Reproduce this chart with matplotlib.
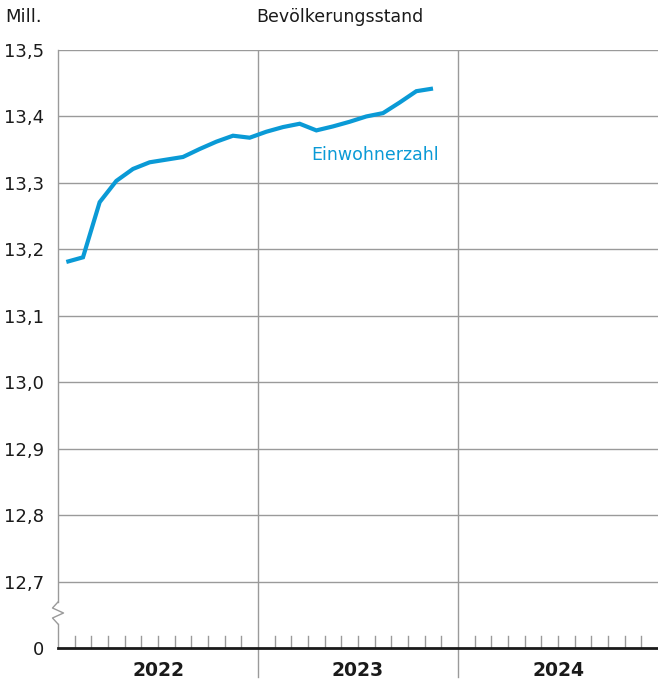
import matplotlib
matplotlib.use("Agg")
import matplotlib.pyplot as plt
from matplotlib.lines import Line2D

months = ["2022-01","2022-02","2022-03","2022-04","2022-05","2022-06","2022-07","2022-08",
          "2022-09","2022-10","2022-11","2022-12","2023-01","2023-02","2023-03","2023-04",
          "2023-05","2023-06","2023-07","2023-08","2023-09","2023-10","2023-11"]
einwohner = [13.181, 13.188, 13.271, 13.303, 13.321, 13.331, 13.335, 13.339,
             13.351, 13.362, 13.371, 13.368, 13.377, 13.384, 13.389, 13.379,
             13.385, 13.392, 13.400, 13.405, 13.421, 13.438, 13.442]
years = ["2022", "2023", "2024"]
ytick_vals = [12.6, 12.7, 12.8, 12.9, 13.0, 13.1, 13.2, 13.3, 13.4, 13.5]
ytick_labels = ["0", "12,7", "12,8", "12,9", "13,0", "13,1", "13,2", "13,3", "13,4", "13,5"]

blue = "#0a9ad6"
grid = "#9a9a9a"
W, H = 658, 684
fig = plt.figure(figsize=(W/100, H/100), dpi=100)
ax = fig.add_axes([58/W, (H-648)/H, 600/W, 598/H])

xs = [(int(m[:4]) - 2022) * 12 + int(m[5:]) - 0.5 for m in months]
ax.set_xlim(0, 36)
ax.set_ylim(12.6, 13.5)

for v in ytick_vals[1:]:
    ax.axhline(v, color=grid, lw=1.0, zorder=1)
for x in (12, 24):
    ax.axvline(x, color=grid, lw=1.0, zorder=1)
    ax.add_line(Line2D([x, x], [12.6, 12.6 - 0.9 * 29/598], color=grid, lw=1.0, clip_on=False))

ax.plot(xs, einwohner, color=blue, lw=3.0, solid_capstyle="butt", solid_joinstyle="miter", zorder=3)

for s in ax.spines.values():
    s.set_visible(False)
ax.axhline(12.6, color="#1a1a1a", lw=2.0, zorder=4, clip_on=False)

# left axis line with break
def py(p):
    return 12.6 + 0.9 * (648 - p) / 598
ax.add_line(Line2D([0, 0], [13.5, py(602)], color=grid, lw=1.0, clip_on=False))
ax.add_line(Line2D([0, 0], [py(624), 12.6], color=grid, lw=1.0, clip_on=False))
zx = [0, -0.33, 0.33, -0.33, 0.0]
zy = [py(602), py(608), py(613), py(618), py(624)]
ax.add_line(Line2D(zx, zy, color=grid, lw=1.0, clip_on=False, zorder=5))

# month ticks
for k in range(1, 36):
    if k % 12 == 0:
        continue
    ax.add_line(Line2D([k, k], [12.6, 12.6 + 0.9*12/598], color=grid, lw=1.0))

ax.set_yticks(ytick_vals)
ax.set_yticklabels(ytick_labels, fontsize=13, color="#1a1a1a")
ax.tick_params(axis="y", length=0, pad=10)
ax.set_xticks([])

for i, y in enumerate(years):
    ax.text(6 + 12*i, 12.6 - 0.9*22/598, y, ha="center", va="center",
            fontsize=13.5, fontweight="bold", color="#1a1a1a")

ax.text(19.05, 13.342, "Einwohnerzahl", color=blue, fontsize=12.5, ha="center", va="center")
fig.text(5/W, 1 - 17/H, "Mill.", fontsize=13, ha="left", va="center", color="#1a1a1a")
fig.text(340/W, 1 - 17/H, "Bevölkerungsstand", fontsize=12.5, ha="center", va="center", color="#1a1a1a")

fig.savefig("out.png", dpi=100)
